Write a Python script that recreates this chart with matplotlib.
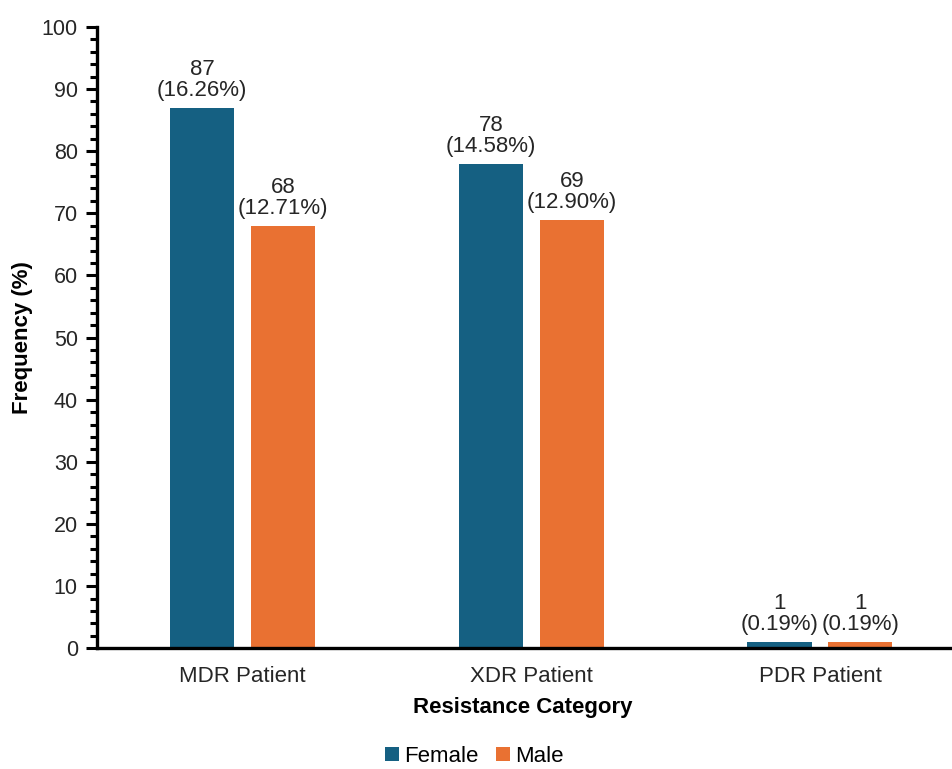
import matplotlib.pyplot as plt
import numpy as np
from matplotlib.ticker import MultipleLocator

categories = ["MDR Patient", "XDR Patient", "PDR Patient"]
female_counts = [87, 78, 1]
male_counts = [68, 69, 1]
female_pct = ["16.26%", "14.58%", "0.19%"]
male_pct = ["12.71%", "12.90%", "0.19%"]

female_color = "#156082"
male_color = "#E97132"
text_color = "#262626"

plt.rcParams["font.family"] = ["Liberation Sans", "DejaVu Sans"]

fig = plt.figure(figsize=(9.53, 7.69), dpi=100)
ax = fig.add_axes([0.102, 0.157, 0.898, 0.808])

x = np.arange(len(categories))
width = 0.222
offset = 0.140

bars_f = ax.bar(x - offset, female_counts, width, color=female_color, label="Female")
bars_m = ax.bar(x + offset, male_counts, width, color=male_color, label="Male")

for bars, counts, pcts in ((bars_f, female_counts, female_pct), (bars_m, male_counts, male_pct)):
    for b, c, p in zip(bars, counts, pcts):
        ax.annotate(f"{c}\n({p})", (b.get_x() + b.get_width() / 2, b.get_height()),
                    xytext=(0, 5), textcoords="offset points", ha="center", va="bottom",
                    fontsize=16, color=text_color, linespacing=1.0)

ax.set_xlim(-0.504, 2.461)
ax.set_ylim(0, 100)
ax.yaxis.set_major_locator(MultipleLocator(10))
ax.yaxis.set_minor_locator(MultipleLocator(2))
ax.set_xticks(x)
ax.set_xticklabels(categories)

for side in ("top", "right"):
    ax.spines[side].set_visible(False)
for side in ("left", "bottom"):
    ax.spines[side].set_linewidth(2.4)
    ax.spines[side].set_color("black")

ax.tick_params(axis="y", which="major", length=8, width=2.2, labelsize=15.5, labelcolor=text_color, pad=6)
ax.tick_params(axis="y", which="minor", length=5, width=2.2)
ax.tick_params(axis="x", length=0, labelsize=16, labelcolor=text_color, pad=13)

ax.set_ylabel("Frequency (%)", fontsize=16, fontweight="bold", va="center")
ax.yaxis.set_label_coords(-0.0876, 0.5)
ax.set_xlabel("Resistance Category", fontsize=16, fontweight="bold", va="center")
ax.xaxis.set_label_coords(0.497, -0.096)

fig.legend(handles=[bars_f, bars_m], labels=["Female", "Male"], loc="center",
           bbox_to_anchor=(0.498, 0.016), ncol=2, frameon=False, fontsize=16,
           handlelength=0.6, handleheight=0.6, handletextpad=0.25, columnspacing=0.8,
           borderpad=0.0)

fig.savefig("out.png", dpi=100)
